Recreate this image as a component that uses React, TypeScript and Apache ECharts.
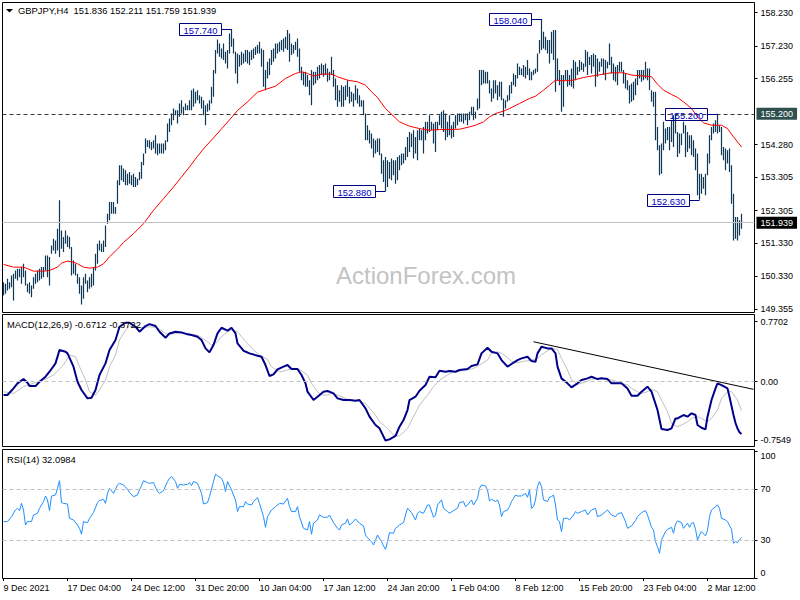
import React, { useEffect, useRef } from 'react';
import * as echarts from 'echarts';

const highs = [
150.16,150.11,150.26,150.16,150.36,150.41,150.51,150.56,150.56,150.61,
150.71,150.51,150.11,150.16,150.06,150.31,150.41,150.51,150.56,150.61,
150.61,150.96,150.96,150.91,151.26,151.46,151.41,151.76,152.61,151.71,
151.51,151.71,151.56,151.51,151.21,150.81,150.71,150.41,150.31,150.06,
150.31,150.41,150.21,150.31,150.41,150.61,151.01,151.31,151.41,151.31,
151.41,151.86,152.21,152.56,152.56,152.56,152.41,153.21,153.66,153.66,
153.56,153.51,153.41,153.46,153.36,153.41,153.31,153.26,153.46,153.76,
154.01,154.46,154.41,154.41,154.36,154.41,154.56,154.31,154.31,154.31,
154.31,154.41,154.91,155.06,155.21,155.36,155.31,155.31,155.51,155.61,
155.41,155.51,155.46,155.61,
155.91,155.96,155.86,155.91,155.76,155.71,155.61,155.46,155.51,155.61,
156.01,156.51,157.11,157.43,157.31,157.16,157.31,157.06,157.11,157.61,
157.74,157.46,157.06,157.01,156.96,157.06,157.01,157.11,157.11,157.06,
157.11,157.16,157.21,157.26,157.36,157.16,157.11,156.51,156.76,156.86,
157.11,157.16,157.31,157.31,157.36,157.41,157.46,157.51,157.71,157.61,
157.31,157.26,157.36,157.46,157.16,156.61,156.46,156.46,156.36,156.21,
156.51,156.46,156.46,156.61,156.66,156.71,156.66,156.71,156.56,156.46,
156.91,156.51,156.26,156.06,155.91,156.06,156.01,156.06,156.21,156.01,
155.86,155.81,156.06,155.96,155.76,155.61,155.61,155.21,154.86,154.71,
154.61,154.46,154.41,154.46,
154.46,154.01,153.81,153.91,153.81,153.76,153.86,153.81,153.81,153.91,
153.96,154.01,154.01,154.21,154.51,154.66,154.61,154.71,154.51,154.71,
154.76,154.71,154.81,154.96,154.96,155.16,154.96,154.91,154.96,154.96,
155.16,155.26,155.31,155.21,154.96,155.16,154.86,154.96,155.16,155.21,
155.21,155.21,155.21,155.21,155.21,155.26,155.41,155.41,155.26,155.66,
156.51,156.51,156.51,156.46,156.46,156.21,155.96,156.21,156.21,156.06,
156.16,156.16,155.66,155.61,155.76,156.06,156.16,156.41,156.36,156.71,
156.61,156.56,156.66,156.61,156.81,156.56,156.46,156.51,156.56,157.01,
157.41,158.04,157.66,157.51,157.41,157.41,157.66,157.71,157.71,156.86,
156.51,156.36,156.36,156.51,
156.51,156.36,156.56,156.81,156.76,156.61,156.81,156.76,156.71,157.11,
157.06,156.91,156.96,157.01,156.96,156.86,156.76,156.86,156.86,156.81,
156.76,157.31,156.91,156.71,156.61,156.66,156.76,156.76,156.51,156.41,
156.21,156.06,156.11,156.16,156.26,156.51,156.51,156.51,156.51,156.76,
156.56,156.56,155.91,155.86,155.86,154.81,154.26,154.31,154.96,154.76,
154.81,154.81,155.01,155.16,155.21,154.66,154.61,154.61,154.96,154.86,
154.66,154.56,154.56,154.41,154.16,154.01,153.41,153.41,153.31,153.41,
154.01,154.56,154.81,154.91,155.01,155.20,154.86,154.81,154.21,154.16,
154.11,154.16,153.66,152.81,152.11,152.11,152.01,152.21
];

const lows = [
149.76,149.81,149.91,149.96,150.01,149.61,150.26,150.21,150.31,150.11,
150.31,150.06,149.86,149.81,149.71,149.96,150.11,150.16,150.21,150.26,
150.31,150.51,150.31,150.06,151.01,151.11,151.01,151.11,150.91,151.16,
151.06,151.31,151.21,151.16,150.36,150.41,150.36,150.11,149.81,149.49,
149.66,150.11,149.86,149.96,150.01,150.06,150.51,150.71,151.11,151.06,
151.06,151.21,151.91,152.01,152.21,152.21,152.21,152.51,153.06,153.21,
153.16,153.06,153.06,153.11,153.06,153.01,153.01,153.06,153.21,153.26,
153.66,154.01,154.21,154.16,154.11,154.16,154.01,153.96,154.01,154.01,
154.01,154.11,154.36,154.66,154.86,155.01,155.16,154.91,155.11,155.21,
155.16,155.31,155.31,155.31,
155.31,155.41,155.51,155.61,155.51,155.36,155.16,154.86,155.26,155.31,
155.51,155.71,156.41,157.01,156.91,156.86,156.81,156.71,156.56,157.01,
157.21,157.01,156.41,156.11,156.61,156.66,156.71,156.76,156.71,156.66,
156.81,156.86,156.96,157.01,157.01,156.61,156.01,155.91,156.26,156.36,
156.66,156.76,156.86,157.01,157.06,157.11,157.06,157.16,157.11,156.76,
156.96,157.01,157.11,156.91,156.46,156.21,156.06,156.01,156.01,155.76,
155.46,156.06,156.11,156.21,156.26,156.36,156.31,156.36,156.16,156.21,
156.36,156.01,155.61,155.41,155.56,155.41,155.41,155.61,155.71,155.51,
155.56,155.41,155.61,155.51,155.41,155.41,155.16,154.41,154.41,154.31,
154.16,153.89,154.01,154.06,
153.96,153.41,153.16,152.88,153.01,153.26,153.21,153.36,153.11,153.21,
153.51,153.66,153.71,153.81,153.91,154.06,154.21,153.86,154.01,153.81,
154.41,154.41,154.01,154.41,154.61,154.66,154.71,154.31,154.06,154.71,
154.86,154.76,154.66,154.41,154.51,154.56,154.46,154.51,154.76,154.86,
154.96,154.96,154.91,155.01,154.86,155.01,155.16,155.01,155.06,155.31,
155.36,156.06,156.11,156.11,156.11,155.81,155.56,155.66,155.81,155.61,
155.71,155.61,155.11,155.36,155.56,155.61,155.81,156.06,156.01,156.26,
156.36,156.36,156.31,156.26,156.36,156.21,156.21,156.36,156.41,156.46,
157.01,157.11,157.16,157.11,157.01,156.71,157.01,156.81,155.86,156.21,
156.06,155.26,155.41,156.21,
156.01,156.06,156.01,155.96,156.21,156.36,156.46,156.51,156.46,156.61,
156.36,156.66,156.41,156.61,156.01,156.31,156.46,156.61,156.36,156.21,
156.56,156.66,156.41,156.21,156.16,156.06,156.46,156.46,156.11,155.96,
155.91,155.51,155.56,155.61,155.76,156.06,156.26,156.16,156.21,156.26,
156.21,155.91,155.56,155.41,154.41,154.11,153.36,153.41,154.11,154.31,
154.41,154.11,154.36,154.21,154.61,153.91,154.01,154.26,154.61,153.91,
154.06,154.16,153.96,153.91,153.51,152.76,152.63,152.81,152.96,152.76,
153.36,153.71,154.41,154.61,154.66,154.61,154.66,153.96,153.81,153.51,
153.71,153.46,152.51,151.41,151.46,151.41,151.56,151.76
];

const maPts = [
[0,150.69],[5,150.61],[10,150.61],[15,150.49],[20,150.49],[23,150.51],[27,150.61],[29,150.73],[32,150.79],[35,150.76],
[37,150.71],[40,150.61],[43,150.58],[47,150.61],[50,150.71],[53,150.92],[57,151.15],[60,151.35],[65,151.61],[70,151.91],
[75,152.31],[80,152.66],[85,153.01],[89,153.31],[93,153.61],[97,153.93],[101,154.22],[105,154.48],[109,154.75],[113,155.02],
[117,155.30],[122,155.56],[127,155.85],[131,155.93],[136,156.03],[141,156.26],[146,156.41],[149,156.46],[152,156.41],[155,156.33],
[159,156.39],[164,156.39],[167,156.31],[172,156.21],[177,156.16],[181,156.06],[184,155.86],[187,155.69],[191,155.36],[198,154.96],
[203,154.83],[208,154.76],[213,154.71],[218,154.73],[223,154.73],[228,154.74],[233,154.81],[236,154.86],[240,154.96],[243,155.11],
[246,155.21],[250,155.28],[253,155.36],[258,155.51],[263,155.66],[266,155.73],[270,155.91],[273,156.06],[276,156.21],[280,156.19],
[285,156.21],[290,156.29],[297,156.36],[304,156.43],[310,156.43],[314,156.36],[319,156.34],[324,156.31],[327,156.09],[330,155.91],
[334,155.78],[337,155.69],[340,155.56],[344,155.36],[347,155.11],[350,154.93],[354,154.86],[359,154.86],[362,154.76],[365,154.51],
[369,154.21]
];

const macdPts = [
[0,-0.171],[2,-0.171],[5,-0.086],[7,-0.021],[10,0.034],[12,-0.013],[13,-0.056],[16,-0.056],[18,0.0],[21,0.064],
[23,0.128],[26,0.235],[28,0.407],[31,0.385],[32,0.364],[35,0.193],[37,0.0],[39,-0.107],[42,-0.214],[44,-0.205],
[46,-0.107],[48,0.086],[51,0.235],[53,0.407],[56,0.535],[58,0.706],[61,0.757],[63,0.757],[66,0.706],[68,0.642],
[71,0.715],[73,0.740],[76,0.715],[78,0.642],[81,0.565],[83,0.620],[86,0.642],[89,0.633],[92,0.608],[94,0.599],
[97,0.578],[99,0.535],[101,0.428],[103,0.377],[105,0.471],[107,0.620],[109,0.693],[112,0.655],[114,0.693],[116,0.620],
[117,0.492],[120,0.398],[123,0.364],[127,0.334],[129,0.321],[131,0.214],[133,0.073],[135,0.094],[137,0.158],[140,0.193],
[142,0.214],[144,0.163],[147,0.163],[149,0.086],[151,-0.021],[152,-0.128],[155,-0.235],[157,-0.193],[160,-0.128],[162,-0.120],
[165,-0.150],[167,-0.214],[170,-0.235],[173,-0.235],[176,-0.244],[178,-0.235],[181,-0.342],[183,-0.449],[186,-0.556],[188,-0.599],
[191,-0.755],[193,-0.740],[196,-0.697],[198,-0.578],[200,-0.492],[202,-0.364],[203,-0.235],[206,-0.193],[208,-0.116],[211,-0.043],
[213,0.064],[216,0.056],[218,0.141],[221,0.128],[223,0.137],[226,0.128],[228,0.150],[232,0.163],[234,0.201],[237,0.223],
[239,0.364],[242,0.436],[244,0.385],[247,0.364],[249,0.278],[252,0.193],[254,0.227],[257,0.278],[259,0.300],[262,0.321],
[264,0.265],[266,0.257],[267,0.364],[269,0.449],[272,0.428],[274,0.428],[276,0.364],[277,0.193],[279,0.043],[282,-0.021],
[284,-0.073],[287,-0.021],[289,0.021],[292,0.043],[294,0.064],[297,0.034],[299,0.043],[302,0.034],[304,-0.021],[307,-0.021],
[309,-0.021],[312,-0.086],[314,-0.180],[317,-0.180],[319,-0.128],[322,-0.064],[324,-0.128],[327,-0.364],[329,-0.608],[332,-0.620],
[334,-0.599],[336,-0.471],[337,-0.471],[340,-0.428],[342,-0.449],[344,-0.406],[346,-0.428],[347,-0.556],[349,-0.591],[351,-0.612],
[352,-0.449],[354,-0.235],[356,-0.086],[357,-0.021],[359,-0.043],[362,-0.086],[363,-0.193],[365,-0.428],[366,-0.53],[367,-0.60],
[368,-0.65],[369,-0.671]
];

const signalPts = [
[0,-0.128],[5,-0.150],[10,-0.064],[15,-0.021],[20,0.021],[25,0.086],[30,0.214],[33,0.342],[36,0.321],[38,0.193],
[41,0.021],[43,-0.128],[46,-0.171],[48,-0.107],[51,0.021],[53,0.193],[56,0.342],[58,0.535],[61,0.663],[63,0.715],
[66,0.706],[68,0.697],[71,0.697],[73,0.706],[76,0.697],[78,0.672],[81,0.620],[83,0.608],[86,0.620],[89,0.629],
[92,0.620],[94,0.608],[97,0.599],[99,0.569],[102,0.513],[104,0.471],[107,0.513],[109,0.578],[112,0.642],[114,0.663],
[117,0.642],[119,0.578],[122,0.492],[125,0.407],[128,0.342],[132,0.287],[134,0.193],[137,0.141],[139,0.128],[142,0.150],
[144,0.171],[147,0.171],[149,0.141],[152,0.086],[154,-0.021],[157,-0.128],[159,-0.171],[162,-0.171],[164,-0.150],[167,-0.171],
[169,-0.193],[172,-0.227],[175,-0.235],[178,-0.257],[181,-0.278],[183,-0.342],[186,-0.428],[188,-0.513],[192,-0.599],[195,-0.685],
[198,-0.697],[202,-0.599],[205,-0.449],[208,-0.300],[212,-0.171],[215,-0.064],[218,0.021],[222,0.086],[225,0.128],[228,0.137],
[232,0.150],[235,0.171],[238,0.214],[242,0.278],[244,0.364],[247,0.385],[249,0.364],[252,0.312],[254,0.257],[257,0.244],
[259,0.257],[262,0.270],[264,0.278],[267,0.300],[269,0.342],[272,0.398],[274,0.428],[277,0.415],[279,0.300],[282,0.150],
[284,0.021],[287,-0.030],[289,-0.021],[292,0.009],[294,0.030],[297,0.043],[299,0.043],[302,0.034],[304,0.021],[307,0.0],
[309,-0.021],[312,-0.043],[314,-0.086],[317,-0.128],[319,-0.150],[322,-0.128],[324,-0.098],[327,-0.128],[329,-0.235],[332,-0.385],
[334,-0.535],[337,-0.578],[339,-0.556],[342,-0.513],[344,-0.471],[347,-0.449],[349,-0.471],[352,-0.513],[354,-0.471],[357,-0.364],
[359,-0.214],[362,-0.128],[364,-0.128],[367,-0.235],[369,-0.372]
];

const rsiPts = [
[0,44.5],[2,44.5],[4,48.4],[6,53.7],[7,55.0],[8,53.2],[9,58.9],[10,53.7],[11,41.8],[12,44.5],[14,44.5],[15,49.7],[17,51.1],[18,55.0],
[20,60.3],[21,64.7],[22,61.6],[23,53.2],[24,64.7],[26,65.5],[27,70.8],[28,76.8],[29,59.5],[30,58.9],[32,58.4],[33,47.1],[35,45.8],
[37,41.8],[38,39.2],[39,34.5],[40,44.5],[42,43.7],[43,47.1],[45,51.6],[47,59.5],[48,61.1],[50,62.1],[51,58.9],[52,66.8],[53,70.8],
[55,66.8],[57,73.4],[58,74.7],[60,73.4],[62,70.0],[63,67.4],[65,64.2],[67,65.5],[68,69.5],[69,72.9],[70,76.8],[72,75.3],[73,74.7],
[75,75.3],[77,68.2],[78,66.8],[80,68.9],[82,76.1],[83,78.7],[84,80.0],[86,76.1],[87,70.8],[88,73.9],[90,73.4],[92,73.9],[93,75.3],
[94,72.9],[95,76.1],[97,74.7],[98,70.8],[99,66.8],[100,58.4],[102,59.5],[103,64.2],[105,76.1],[106,82.1],[107,80.5],[109,78.7],
[110,75.3],[111,68.2],[112,76.1],[114,69.5],[116,61.6],[117,52.4],[118,56.3],[120,56.3],[121,60.3],[122,58.4],[124,57.6],[125,60.3],
[127,63.4],[128,58.9],[130,48.4],[131,40.0],[132,48.4],[134,53.7],[136,56.3],[138,58.9],[140,58.4],[142,62.9],[143,56.3],[144,52.4],
[146,52.4],[147,56.3],[148,48.4],[150,39.2],[152,37.9],[153,44.5],[154,34.5],[155,43.2],[157,45.8],[158,49.7],[160,47.9],[162,47.9],
[163,49.7],[165,43.7],[167,39.2],[168,37.9],[169,41.8],[171,43.2],[172,46.6],[173,41.8],[175,44.5],[176,46.6],[178,43.2],[180,41.1],
[181,33.9],[182,31.8],[184,28.7],[185,26.1],[186,30.0],[187,33.9],[189,28.7],[190,25.3],[191,22.6],[192,28.7],[193,35.8],[195,35.3],
[196,39.2],[197,40.5],[198,41.8],[200,43.7],[201,49.7],[202,55.0],[204,51.6],[206,45.8],[207,51.1],[208,52.4],[210,51.1],[212,57.6],
[213,57.6],[215,47.9],[216,49.7],[217,57.6],[219,61.6],[220,55.0],[222,52.4],[223,51.1],[225,53.2],[227,55.0],[228,59.5],[230,60.3],
[231,56.3],[232,57.6],[234,61.6],[235,57.6],[237,62.9],[238,70.8],[239,73.4],[241,72.6],[242,69.5],[243,60.8],[244,62.1],[246,60.3],
[247,61.6],[248,57.6],[249,48.4],[250,52.4],[252,53.7],[253,56.3],[254,60.3],[255,62.9],[256,65.5],[257,64.7],[259,64.7],[261,66.8],
[262,63.7],[263,69.5],[264,55.0],[265,56.3],[266,61.6],[267,72.1],[268,76.1],[269,72.1],[270,61.6],[272,60.3],[273,63.7],[274,64.2],
[275,65.5],[276,57.6],[277,45.8],[278,44.5],[279,36.6],[280,47.1],[282,47.1],[283,45.8],[285,49.7],[286,52.4],[287,51.1],[289,52.4],
[291,53.7],[292,49.7],[294,53.7],[296,55.0],[297,48.4],[299,49.7],[301,52.4],[302,53.7],[304,49.7],[306,48.4],[307,50.5],[309,51.6],
[311,44.5],[312,39.2],[314,41.1],[316,45.3],[317,48.4],[319,51.6],[321,53.2],[322,49.7],[324,40.0],[325,37.9],[326,28.7],[327,24.7],
[328,19.5],[329,30.0],[331,36.6],[332,38.4],[334,40.0],[335,35.3],[336,42.6],[337,45.0],[339,43.7],[340,39.2],[342,43.2],[343,40.0],
[344,43.2],[345,43.7],[346,38.4],[347,30.0],[348,33.9],[349,36.6],[351,33.2],[352,37.9],[353,48.4],[354,53.7],[356,56.3],[357,57.6],
[358,55.0],[359,47.1],[361,45.8],[362,44.5],[364,38.4],[365,27.4],[366,28.7],[367,27.9],[368,30.0],[369,32.1]
];

const xLabels = ['9 Dec 2021','17 Dec 04:00','24 Dec 12:00','31 Dec 20:00','10 Jan 04:00','17 Jan 12:00','24 Jan 20:00','1 Feb 04:00','8 Feb 12:00','15 Feb 20:00','23 Feb 04:00','2 Mar 12:00'];
const priceTicks = [158.23,157.23,156.255,154.28,153.305,152.305,151.33,150.33,149.355];
const macdTicks = [0.7702, 0, -0.7549];
const rsiTicks = [0, 30, 70, 100];
const rsiLevels = [70, 30];
const macdTrend = [[265, 0.513], [375, -0.098]];
const annotations = [
  { i: 114, price: 157.74, text: '157.740' },
  { i: 269, price: 158.04, text: '158.040' },
  { i: 191, price: 152.88, text: '152.880' },
  { i: 357, price: 155.2, text: '155.200' },
  { i: 348, price: 152.63, text: '152.630' },
];
const levelPrice = 155.2;
const lastPrice = 151.939;
const headerText = 'GBPJPY,H4  151.836 152.211 151.759 151.939';
const macdTitle = 'MACD(12,26,9) -0.6712 -0.3722';
const rsiTitle = 'RSI(14) 32.0984';
const SLOTS = 376;
const LABEL_STEP = 32;

const FONT = '"Liberation Sans", Arial, sans-serif';

export default function App() {
  const ref = useRef<HTMLDivElement>(null);
  useEffect(() => {
    const chart = echarts.init(ref.current!, null, { renderer: 'svg' });
    const cats = Array.from({ length: SLOTS }, (_, i) =>
      i % LABEL_STEP === 0 && xLabels[i / LABEL_STEP] ? xLabels[i / LABEL_STEP] : '');
    const gridDefs = [
      { left: 2.5, top: 2.5, width: 752, height: 310 },
      { left: 2.5, top: 314.5, width: 752, height: 132 },
      { left: 2.5, top: 449.5, width: 752, height: 129 },
    ];
    const grids = gridDefs.map((g) => ({ ...g, show: true, borderColor: '#000', borderWidth: 1, backgroundColor: 'transparent' }));
    const showLab = (i: number) => i % LABEL_STEP === 0 && cats[i] !== '';
    const xAxes = [0, 1, 2].map((k) => ({
      type: 'category', gridIndex: k, data: cats, boundaryGap: true,
      axisLine: { show: false },
      axisTick: k === 2 ? { show: true, interval: showLab, alignWithLabel: true, length: 3, lineStyle: { color: '#000' } } : { show: false },
      axisLabel: k === 2 ? { show: true, interval: showLab, align: 'left', color: '#000', fontSize: 9, fontFamily: FONT, margin: 5 } : { show: false },
      splitLine: { show: false },
    }));
    const yBase = (k: number, min: number, max: number, ticks: number[], fmt: any, rich?: any) => ({
      type: 'value', gridIndex: k, position: 'right', min, max,
      axisLine: { show: false }, splitLine: { show: false },
      axisTick: { show: true, customValues: ticks, length: 3, lineStyle: { color: '#000' } },
      axisLabel: { show: true, customValues: ticks, formatter: fmt, color: '#000', fontSize: 9, fontFamily: FONT, margin: 6, rich },
    });
    const yAxes = [
      yBase(0, 149.251, 158.535, priceTicks, (v: number) => v.toFixed(3)),
      yBase(1, -0.832, 0.863, macdTicks, (v: number) => (v === 0 ? '0.00' : v.toFixed(4))),
      yBase(2, -0.4, 101.4, rsiTicks,
        (v: number) => (v === 100 ? '{t|100}' : v === 0 ? '{b|0}' : String(v)),
        {
          t: { padding: [9, 0, 0, 0], fontSize: 9, fontFamily: FONT, color: '#000' },
          b: { padding: [0, 0, 9, 0], fontSize: 9, fontFamily: FONT, color: '#000' },
        }),
    ];
    const barData = highs.map((h, i) => [i, h, lows[i]]);
    const renderBar = (_p: any, api: any) => {
      const i = api.value(0);
      const top = api.coord([i, api.value(1)]);
      const bot = api.coord([i, api.value(2)]);
      return { type: 'line', shape: { x1: top[0], y1: top[1], x2: bot[0], y2: bot[1] }, style: { stroke: '#0e3856', lineWidth: 1.2 } };
    };
    const markLabel = (text: string, bg: string) => ({
      show: true, position: 'end', formatter: text, color: '#fff', backgroundColor: bg,
      padding: [2, 4, 1, 4], fontSize: 9, fontFamily: FONT, distance: 2,
    });
    const option: any = {
      animation: false,
      backgroundColor: '#fff',
      grid: grids,
      xAxis: xAxes,
      yAxis: yAxes,
      series: [
        {
          type: 'custom', name: 'bars', xAxisIndex: 0, yAxisIndex: 0, data: barData,
          renderItem: renderBar, encode: { x: 0, y: [1, 2] }, clip: true, z: 3,
        },
        {
          type: 'line', name: 'ma', xAxisIndex: 0, yAxisIndex: 0, data: maPts, showSymbol: false, symbol: 'none',
          lineStyle: { color: '#ff0000', width: 1 }, z: 4,
          markLine: {
            silent: true, symbol: ['none', 'none'], animation: false,
            data: [
              { yAxis: levelPrice, lineStyle: { color: '#3a3a3a', type: [4, 3], width: 1 }, label: markLabel('155.200', '#2f4f4f') },
              { yAxis: lastPrice, lineStyle: { color: '#c0c0c0', type: 'solid', width: 1 }, label: markLabel('151.939', '#000') },
            ],
          },
        },
        {
          type: 'line', name: 'signal', xAxisIndex: 1, yAxisIndex: 1, data: signalPts, showSymbol: false, symbol: 'none',
          lineStyle: { color: '#c0c0c0', width: 1 }, z: 3,
          markLine: {
            silent: true, symbol: ['none', 'none'], animation: false,
            data: [{ yAxis: 0, lineStyle: { color: '#c0c0c0', type: [4, 3], width: 1 }, label: { show: false } }],
          },
        },
        {
          type: 'line', name: 'macd', xAxisIndex: 1, yAxisIndex: 1, data: macdPts, showSymbol: false, symbol: 'none',
          lineStyle: { color: '#00008b', width: 2 }, z: 4,
        },
        {
          type: 'line', name: 'trend', xAxisIndex: 1, yAxisIndex: 1, data: macdTrend, showSymbol: false, symbol: 'none',
          lineStyle: { color: '#000', width: 1 }, z: 5,
        },
        {
          type: 'line', name: 'rsi', xAxisIndex: 2, yAxisIndex: 2, data: rsiPts, showSymbol: false, symbol: 'none',
          lineStyle: { color: '#1e90ff', width: 1 }, z: 4,
          markLine: {
            silent: true, symbol: ['none', 'none'], animation: false,
            data: rsiLevels.map((v) => ({ yAxis: v, lineStyle: { color: '#c0c0c0', type: [4, 3], width: 1 }, label: { show: false } })),
          },
        },
      ],
    };
    chart.setOption(option);

    const TITLE_SIZE = 9.4;
    const gfx: any[] = [
      { type: 'text', x: 426, y: 275, z: 0, silent: true,
        style: { text: 'ActionForex.com', fill: '#c3c3c3', fontSize: 24, fontFamily: FONT, align: 'center', verticalAlign: 'middle' } },
      { type: 'polygon', z: 10, silent: true, shape: { points: [[6, 9], [13, 9], [9.5, 12.5]] }, style: { fill: '#000' } },
      { type: 'text', x: 18, y: 10.5, z: 10, silent: true,
        style: { text: headerText, fill: '#000', fontSize: TITLE_SIZE, fontFamily: FONT, align: 'left', verticalAlign: 'middle' } },
      { type: 'text', x: 7, y: 324, z: 10, silent: true,
        style: { text: macdTitle, fill: '#000', fontSize: TITLE_SIZE, fontFamily: FONT, align: 'left', verticalAlign: 'middle' } },
      { type: 'text', x: 7, y: 459, z: 10, silent: true,
        style: { text: rsiTitle, fill: '#000', fontSize: TITLE_SIZE, fontFamily: FONT, align: 'left', verticalAlign: 'middle' } },
    ];
    annotations.forEach((a) => {
      const p = chart.convertToPixel({ seriesIndex: 0 }, [a.i, a.price]) as number[];
      const px = Math.floor(p[0]) + 0.5;
      const py = Math.round(p[1]) + 0.5;
      const w = 42, h = 12;
      const bx = px - 10 - w;
      gfx.push({ type: 'rect', z: 10, silent: true, shape: { x: bx, y: py - h / 2, width: w, height: h },
        style: { fill: 'none', stroke: '#000080', lineWidth: 1 } });
      gfx.push({ type: 'line', z: 10, silent: true, shape: { x1: bx + w, y1: py, x2: px, y2: py },
        style: { stroke: '#000080', lineWidth: 1 } });
      gfx.push({ type: 'text', z: 10, silent: true, x: bx + w / 2, y: py + 0.5,
        style: { text: a.text, fill: '#0000c8', fontSize: 9.4, fontFamily: FONT, align: 'center', verticalAlign: 'middle' } });
    });
    chart.setOption({ graphic: gfx });
    return () => chart.dispose();
  }, []);
  return <div ref={ref} style={{ position: 'fixed', left: 0, top: 0, width: 800, height: 600, background: '#fff' }} />;
}
